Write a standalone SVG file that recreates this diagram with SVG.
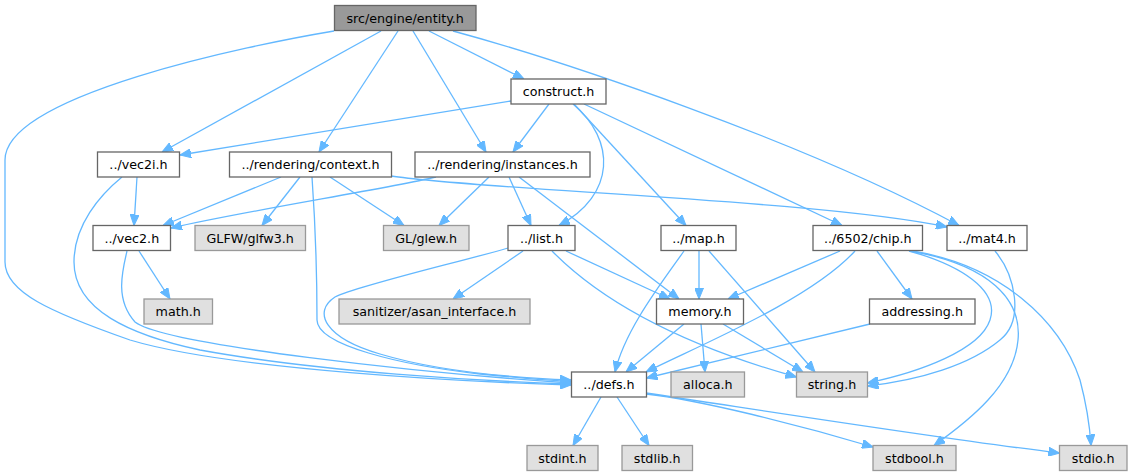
<svg xmlns="http://www.w3.org/2000/svg" width="1132" height="476" viewBox="0 0 1132 476">
<style>
.n rect{fill:#ffffff;stroke:#666666;stroke-width:1.3}
.x rect{fill:#e0e0e0;stroke:#999999;stroke-width:1.3}
.m rect{fill:#999999;stroke:#666666;stroke-width:1.3}
text{font-family:"DejaVu Sans","Liberation Sans",sans-serif;font-size:12.7px;fill:#000000;text-anchor:middle}
#edges path{fill:none;stroke:#63b8ff;stroke-width:1.3;marker-end:url(#a)}
</style>
<defs>
<marker id="a" markerWidth="11" markerHeight="9" refX="11" refY="4.5" orient="auto" markerUnits="userSpaceOnUse">
<path d="M0,0 L11,4.5 L0,9 Z" fill="#63b8ff" stroke="#63b8ff" stroke-width="1"/>
</marker>
</defs>
<rect width="1132" height="476" fill="#ffffff"/>
<g id="edges">
<path d="M334,31 C250,45 5,95 5,160 L5,262 C5,292 50,312 130,340 C230,370 470,382 571,385"/>
<path d="M122,177 C100,195 74,225 74,262 C74,310 130,335 200,350 C320,372 480,381 571,384"/>
<path d="M127,251 C122,272 115,300 135,322 C165,345 420,373 571,383"/>
<path d="M312,177 C315,220 317,280 317,320 C317,345 400,365 480,374 C530,379 555,381 571,381.5"/>
<path d="M508,248 C460,262 360,285 335,297 C312,312 325,338 380,354 C440,372 520,378 571,380"/>
<path d="M381,31 L162,152"/>
<path d="M398,31 L319,152"/>
<path d="M413,31 L486,152"/>
<path d="M429,31 L524,79"/>
<path d="M453,31 C560,60 800,140 959,225.5"/>
<path d="M511,101 L180,155"/>
<path d="M549,104 L513,152"/>
<path d="M573,104 C616,140 616,195 559,225.5"/>
<path d="M574,104 L686,225.5"/>
<path d="M584,104 L842,225.5"/>
<path d="M137,177 L134,225.5"/>
<path d="M281,177 L163,225.5"/>
<path d="M300,177 L262,225.5"/>
<path d="M330,177 L404,225.5"/>
<path d="M391,176 C480,190 820,200 947,227"/>
<path d="M436,177 C380,190 250,210 171,228"/>
<path d="M489,177 L439,225.5"/>
<path d="M509,177 L531,225.5"/>
<path d="M519,177 L679,299"/>
<path d="M139,251 L170,299"/>
<path d="M523,251 L453,299"/>
<path d="M566,251 L670,299"/>
<path d="M552,251 C610,310 700,350 796.5,377"/>
<path d="M684,251 C660,285 625,330 615,372"/>
<path d="M699,251 L699,299"/>
<path d="M709,251 L815,372"/>
<path d="M840,251 L728,299"/>
<path d="M855,251 C810,300 700,345 646,372"/>
<path d="M877,251 L912,299"/>
<path d="M909,251 C960,265 1000,290 990,320 C980,350 920,372 867.5,383"/>
<path d="M910,251 C990,265 1022,300 1018,340 C1014,385 970,420 934,445.5"/>
<path d="M912,251 C1000,265 1060,320 1080,380 C1088,410 1090,430 1091,445.5"/>
<path d="M995,251 C1015,275 1025,320 1000,340 C970,365 920,380 867.5,386"/>
<path d="M684,324 L626,372"/>
<path d="M701,324 L705,372"/>
<path d="M723,324 L803,372"/>
<path d="M870,324 L646.5,378"/>
<path d="M601,397 L573,445.5"/>
<path d="M617,397 L649,445.5"/>
<path d="M646,394 C700,400 800,425 873,447"/>
<path d="M646,393 C760,410 950,440 1059.5,453"/>
</g>
<g id="entity" class="m"><rect x="334.5" y="5.5" width="141.5" height="25"/><text x="405.2" y="22.5">src/engine/entity.h</text></g>
<g id="construct" class="n"><rect x="511" y="79" width="95" height="25"/><text x="558.5" y="96">construct.h</text></g>
<g id="vec2i" class="n"><rect x="97.5" y="152" width="82" height="25"/><text x="138.5" y="169">../vec2i.h</text></g>
<g id="context" class="n"><rect x="229.5" y="152" width="162" height="25"/><text x="310.5" y="169">../rendering/context.h</text></g>
<g id="instances" class="n"><rect x="415" y="152" width="175" height="25"/><text x="502.5" y="169">../rendering/instances.h</text></g>
<g id="vec2" class="n"><rect x="93" y="225.5" width="77.5" height="25"/><text x="131.8" y="242.5">../vec2.h</text></g>
<g id="glfw3" class="x"><rect x="195" y="225.5" width="110.5" height="25"/><text x="250.2" y="242.5">GLFW/glfw3.h</text></g>
<g id="glew" class="x"><rect x="383.5" y="225.5" width="85.5" height="25"/><text x="426.2" y="242.5">GL/glew.h</text></g>
<g id="list" class="n"><rect x="508" y="225.5" width="67" height="25"/><text x="541.5" y="242.5">../list.h</text></g>
<g id="map" class="n"><rect x="661" y="225.5" width="75" height="25"/><text x="698.5" y="242.5">../map.h</text></g>
<g id="chip" class="n"><rect x="813" y="225.5" width="109.5" height="25"/><text x="867.8" y="242.5">../6502/chip.h</text></g>
<g id="mat4" class="n"><rect x="947" y="225.5" width="80" height="25"/><text x="987" y="242.5">../mat4.h</text></g>
<g id="math" class="x"><rect x="144" y="299" width="68.5" height="25"/><text x="178.2" y="316">math.h</text></g>
<g id="sanitizer" class="x"><rect x="339" y="299" width="191" height="25"/><text x="434.5" y="316">sanitizer/asan_interface.h</text></g>
<g id="memory" class="n"><rect x="656.5" y="299" width="87" height="25"/><text x="700" y="316">memory.h</text></g>
<g id="addressing" class="n"><rect x="869.5" y="299" width="105.5" height="25"/><text x="922.2" y="316">addressing.h</text></g>
<g id="defs" class="n"><rect x="571.5" y="372" width="75" height="25"/><text x="609" y="389">../defs.h</text></g>
<g id="alloca" class="x"><rect x="671" y="372" width="73.5" height="25"/><text x="707.8" y="389">alloca.h</text></g>
<g id="string" class="x"><rect x="796.5" y="372" width="71" height="25"/><text x="832" y="389">string.h</text></g>
<g id="stdint" class="x"><rect x="527" y="445.5" width="71" height="25"/><text x="562.5" y="462.5">stdint.h</text></g>
<g id="stdlib" class="x"><rect x="622" y="445.5" width="70.5" height="25"/><text x="657.2" y="462.5">stdlib.h</text></g>
<g id="stdbool" class="x"><rect x="873" y="445.5" width="83" height="25"/><text x="914.5" y="462.5">stdbool.h</text></g>
<g id="stdio" class="x"><rect x="1059.5" y="445.5" width="67.5" height="25"/><text x="1093.2" y="462.5">stdio.h</text></g>
</svg>
